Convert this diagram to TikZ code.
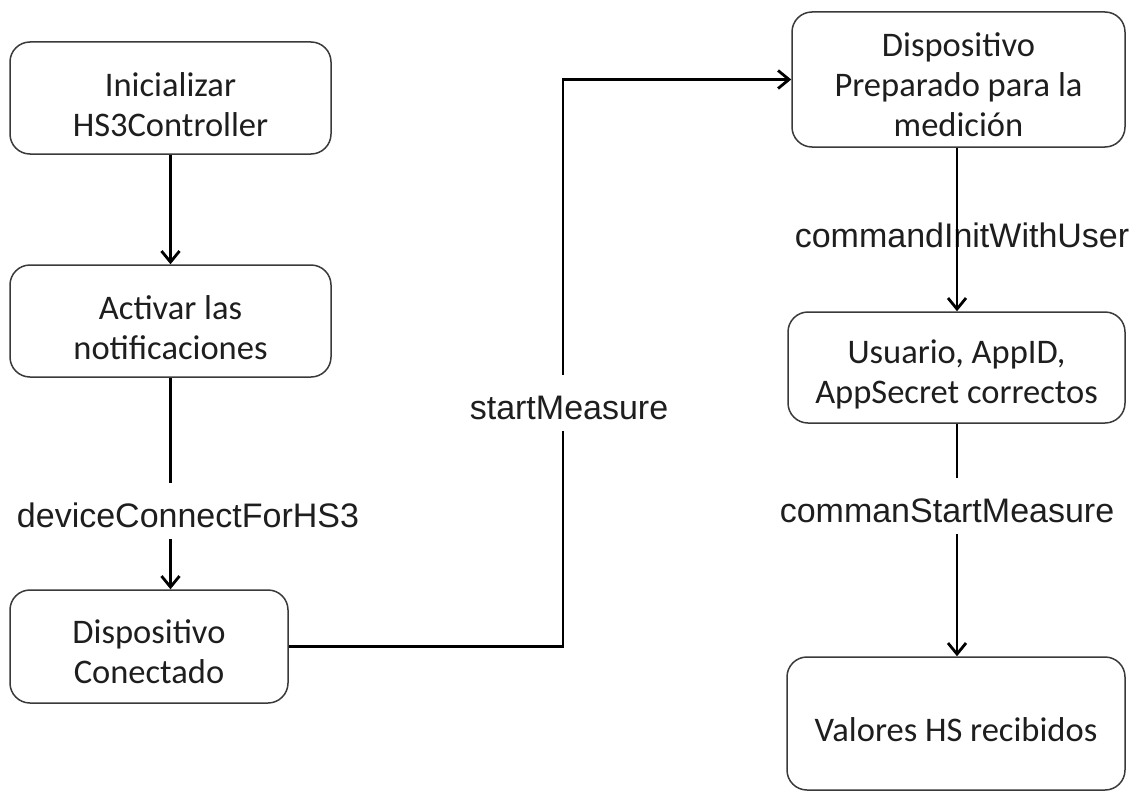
\documentclass[tikz,border=0pt]{standalone}
\usepackage{fontspec}
\setmainfont{Carlito}
\newfontfamily\labelfont{Liberation Sans}
\usetikzlibrary{arrows.meta}
\definecolor{boxline}{HTML}{3A3A3A}
\definecolor{inktext}{HTML}{1E1E1E}
% centred lines of box text, lowered a little inside the box
\newcommand\boxlines[2][9pt]{\raisebox{-#1}[\height][\depth]{\begin{tabular}{@{}c@{}}#2\end{tabular}}}
\begin{document}
\begin{tikzpicture}[x=1pt,y=-1pt,
  flowbox/.style={draw=boxline, line width=1.5pt, rounded corners=20pt,
    text=inktext, inner sep=0pt,
    font=\fontsize{34.5}{40}\selectfont},
  edgelabel/.style={font=\labelfont\fontsize{34}{40}\selectfont, text=inktext,
    inner sep=0pt, text height=44pt, text depth=12pt, anchor=base},
  link/.style={line width=2.8pt, black},
  linkarrow/.style={link, -{Straight Barb[length=11pt,width=18pt]}}
]
\path[fill=white, use as bounding box] (0,0) rectangle (1139,792);

% left column
\node[flowbox, minimum width=321pt, minimum height=112pt] (init) at (170.5,98) {\boxlines[10pt]{Inicializar\\HS3Controller}};
\node[flowbox, minimum width=321pt, minimum height=112pt] (notif) at (170.5,321) {\boxlines[10pt]{Activar las\\notificaciones}};
\node[flowbox, minimum width=278pt, minimum height=113pt] (conn) at (149,646.5) {\boxlines[9pt]{Dispositivo\\Conectado}};

% right column
\node[flowbox, minimum width=333pt, minimum height=135pt] (ready) at (958.5,79.5) {\boxlines[9pt]{Dispositivo\\Preparado para la\\medición}};
\node[flowbox, minimum width=337pt, minimum height=111pt] (user) at (956.5,367.5) {\boxlines[8pt]{Usuario, AppID,\\AppSecret correctos}};
\node[flowbox, minimum width=338pt, minimum height=133pt] (vals) at (956,723.5) {\boxlines[10pt]{Valores HS recibidos}};

% edge labels
\node[edgelabel] (ldev) at (188,527) {deviceConnectForHS3};
\node[edgelabel] (lstart) at (569,419) {startMeasure};
\node[edgelabel] (linit) at (962,247) {commandInitWithUser};
\node[edgelabel] (lcmd) at (947,522) {commanStartMeasure};
\coordinate (riser) at (563,407);

% connectors
\draw[linkarrow] (init.south) -- (notif.north);
\draw[link] (notif.south) -- (notif.south |- ldev.north);
\draw[linkarrow] (notif.south |- ldev.south) -- (notif.south |- conn.north);
\draw[link] (conn.east) -| (riser |- lstart.south);
\draw[linkarrow] (riser |- lstart.north) |- (ready.west);
\draw[linkarrow] (ready.south -| 957,0) -- (user.north -| 957,0);
\draw[link] (user.south -| 957,0) -- (lcmd.north -| 957,0);
\draw[linkarrow] (lcmd.south -| 957,0) -- (vals.north -| 957,0);
\end{tikzpicture}
\end{document}
